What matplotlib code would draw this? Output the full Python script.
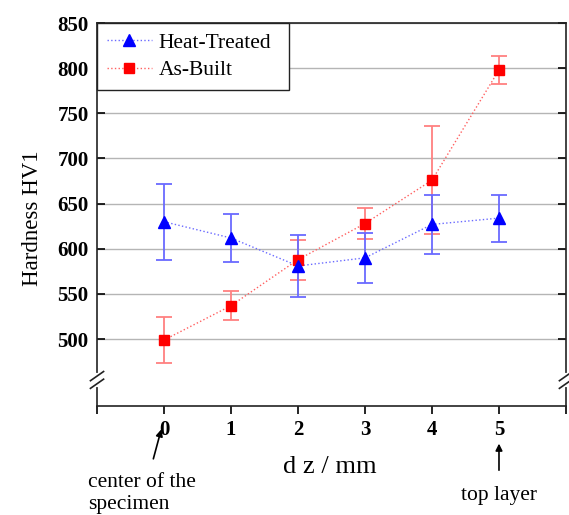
#!/usr/bin/python

import matplotlib
matplotlib.use('Agg')
import matplotlib.pyplot as plt
from matplotlib.lines import Line2D

# data
dz = [0, 1, 2, 3, 4, 5]
heat_treated = [630, 612, 581, 590, 627, 634]
heat_treated_err = [42, 27, 34, 28, 33, 26]
as_built = [499, 537, 588, 628, 676, 798]
as_built_err = [25, 16, 22, 17, 60, 15]

y_ticks = [500, 550, 600, 650, 700, 750, 800, 850]
x_ticks = [-1, 0, 1, 2, 3, 4, 5, 6]
x_tick_labels = ['', '0', '1', '2', '3', '4', '5', '']

plt.rcParams['font.family'] = ['Liberation Serif', 'DejaVu Serif']

fig = plt.figure(figsize=(5.69, 5.15), dpi=100)
ax = fig.add_axes([0.1705, 0.2117, 0.8242, 0.7436])

# As-Built
ax.errorbar(dz, as_built, yerr=as_built_err, fmt='none', ecolor='#ff8080',
            elinewidth=1.3, capsize=5.5, capthick=1.3, zorder=3)
ax.plot(dz, as_built, linestyle=':', color='#ff6060', linewidth=1.0, zorder=3)
ax.plot(dz, as_built, linestyle='none', marker='s', markersize=6.5,
        color='red', zorder=4)

# Heat-Treated
ax.errorbar(dz, heat_treated, yerr=heat_treated_err, fmt='none', ecolor='#6a6aff',
            elinewidth=1.3, capsize=5.5, capthick=1.3, zorder=3)
ax.plot(dz, heat_treated, linestyle=':', color='#6a6aff', linewidth=1.0, zorder=3)
ax.plot(dz, heat_treated, linestyle='none', marker='^', markersize=8,
        color='blue', zorder=4)

ax.set_xlim(-1, 6)
ax.set_ylim(426, 850)
ax.set_yticks(y_ticks)
ax.set_xticks(x_ticks)
ax.set_xticklabels(x_tick_labels)
for lab in ax.get_xticklabels() + ax.get_yticklabels():
    lab.set_fontweight('bold')
    lab.set_fontsize(15)

ax.yaxis.grid(True, color='#b5b5b5', linewidth=1.0)
ax.set_axisbelow(True)

ax.tick_params(axis='x', direction='out', length=6, width=1.2, top=False, pad=4)
ax.tick_params(axis='y', direction='in', length=6, width=1.2, left=True, right=True,
               pad=6)
for sp in ax.spines.values():
    sp.set_linewidth(1.2)
    sp.set_color('#222222')

ax.set_ylabel('Hardness HV1', fontsize=16.5)
ax.yaxis.set_label_coords(-0.115, 0.49)
ax.set_xlabel('d z / mm', fontsize=19)
ax.xaxis.set_label_coords(0.497, -0.13)

# legend
handles = [
    Line2D([], [], linestyle=':', color='#6a6aff', linewidth=1.0,
           marker='^', markersize=8, markerfacecolor='blue', markeredgecolor='blue'),
    Line2D([], [], linestyle=':', color='#ff6060', linewidth=1.0,
           marker='s', markersize=6.5, markerfacecolor='red', markeredgecolor='red'),
]
leg = ax.legend(handles, ['Heat-Treated', 'As-Built'], loc='upper left',
                bbox_to_anchor=(0, 0, 0.409, 1), mode='expand',
                fontsize=15.5, fancybox=False, framealpha=1, edgecolor='#222222',
                borderaxespad=0, handlelength=2.1, handletextpad=0.3,
                labelspacing=0.35, borderpad=0.45)
leg.get_frame().set_linewidth(1.0)

# axis break marks on both y spines
yb = 0.068
for xs in (0, 1):
    ax.plot([xs, xs], [yb - 0.012, yb + 0.012], color='white', linewidth=3,
            transform=ax.transAxes, clip_on=False, zorder=5)
    for dy in (-0.010, 0.010):
        ax.plot([xs - 0.014, xs + 0.014], [yb + dy - 0.012, yb + dy + 0.012],
                color='#222222', linewidth=1.2, transform=ax.transAxes,
                clip_on=False, zorder=6)

# annotations below the axis
ax.annotate('', xy=(-0.03, -0.054), xycoords=('data', 'axes fraction'),
            xytext=(-0.17, -0.145), textcoords=('data', 'axes fraction'),
            arrowprops=dict(arrowstyle='-|>', color='black', lw=1.2,
                            mutation_scale=10))
ax.text(-1.13, -0.176, 'center of the\nspecimen', transform=ax.get_xaxis_transform(),
        ha='left', va='top', fontsize=15.5, linespacing=1.2)

ax.annotate('', xy=(5, -0.091), xycoords=('data', 'axes fraction'),
            xytext=(5, -0.175), textcoords=('data', 'axes fraction'),
            arrowprops=dict(arrowstyle='-|>', color='black', lw=1.2,
                            mutation_scale=10))
ax.text(5, -0.233, 'top layer', transform=ax.get_xaxis_transform(),
        ha='center', va='center', fontsize=15.5)

fig.savefig('out.png', dpi=100)
